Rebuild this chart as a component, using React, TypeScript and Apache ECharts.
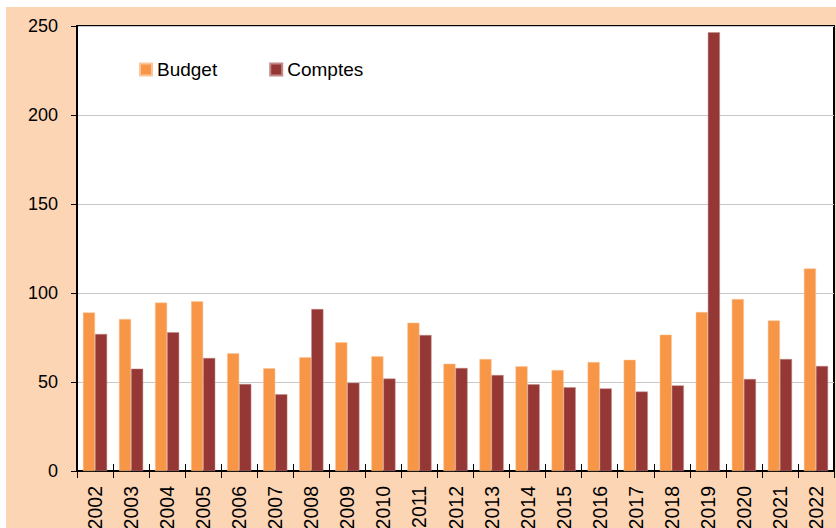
import React, { useEffect, useRef } from "react";
import * as echarts from "echarts";

const years = ["2002","2003","2004","2005","2006","2007","2008","2009","2010","2011","2012","2013","2014","2015","2016","2017","2018","2019","2020","2021","2022"];
const budget = [89.1, 85.4, 94.6, 95.3, 66.1, 57.7, 63.9, 72.3, 64.4, 83.3, 60.3, 62.9, 58.8, 56.7, 61.2, 62.5, 76.6, 89.3, 96.6, 84.6, 113.8];
const comptes = [77.0, 57.5, 77.9, 63.5, 48.9, 43.1, 91.0, 49.6, 51.9, 76.4, 57.9, 53.9, 48.7, 47.0, 46.4, 44.6, 48.1, 246.5, 51.7, 62.9, 59.0];
const yTicks = [0, 50, 100, 150, 200, 250];

const FONT = "Liberation Sans, Arial, sans-serif";

export default function App() {
  const ref = useRef<HTMLDivElement>(null);
  useEffect(() => {
    if (!ref.current) return;
    const chart = echarts.init(ref.current, undefined, { renderer: "svg" });
    chart.setOption({
      animation: false,
      backgroundColor: "#FCD5B5",
      legend: {
        left: 133,
        top: 53,
        padding: 0,
        itemWidth: 12,
        itemHeight: 12,
        itemGap: 52,
        icon: "rect",
        textStyle: { fontFamily: FONT, fontSize: 19, color: "#000" },
        data: ["Budget", "Comptes"],
      },
      grid: {
        left: 71,
        top: 19,
        right: 2,
        bottom: 57,
        show: true,
        backgroundColor: "#ffffff",
        borderColor: "#000000",
        borderWidth: 2,
        containLabel: false,
        outerBoundsMode: "none",
      },
      xAxis: [
        {
          type: "category",
          data: years,
          position: "bottom",
          axisLine: { show: true, lineStyle: { color: "#000", width: 2 } },
          axisTick: { show: true, inside: false, length: 7, lineStyle: { color: "#000", width: 1 } },
          axisLabel: {
            rotate: 90,
            margin: 15,
            fontFamily: FONT,
            fontSize: 19.5,
            color: "#000",
            interval: 0,
          },
        },
        {
          type: "category",
          data: years,
          position: "bottom",
          axisLine: { show: false },
          axisTick: { show: true, inside: true, length: 7, lineStyle: { color: "#000", width: 1 } },
          axisLabel: { show: false },
          splitLine: { show: false },
        },
      ],
      yAxis: {
        type: "value",
        min: 0,
        max: 250,
        interval: 50,
        axisLine: { show: true, lineStyle: { color: "#000", width: 2 } },
        axisTick: { show: true, inside: false, length: 6, lineStyle: { color: "#000", width: 1 } },
        axisLabel: {
          margin: 19,
          fontFamily: FONT,
          fontSize: 18,
          color: "#000",
          formatter: (v: number) => (yTicks.includes(v) ? String(v) : ""),
        },
        splitLine: { show: true, lineStyle: { color: "#C8C8C8", width: 1 } },
      },
      series: [
        {
          name: "Budget",
          type: "bar",
          data: budget,
          xAxisIndex: 0,
          barGap: "0%",
          barCategoryGap: "33%",
          itemStyle: { color: "#F79646", borderColor: "#FBC79A", borderWidth: 0.5 },
        },
        {
          name: "Comptes",
          type: "bar",
          data: comptes,
          xAxisIndex: 0,
          barGap: "0%",
          barCategoryGap: "33%",
          itemStyle: { color: "#953735", borderColor: "#C08A88", borderWidth: 0.5 },
        },
      ],
    });
    return () => chart.dispose();
  }, []);
  return (
    <div style={{ position: "fixed", left: 0, top: 0, width: 836, height: 528, background: "#ffffff" }}>
      <div ref={ref} style={{ position: "absolute", left: 6, top: 7, width: 830, height: 521 }} />
    </div>
  );
}
